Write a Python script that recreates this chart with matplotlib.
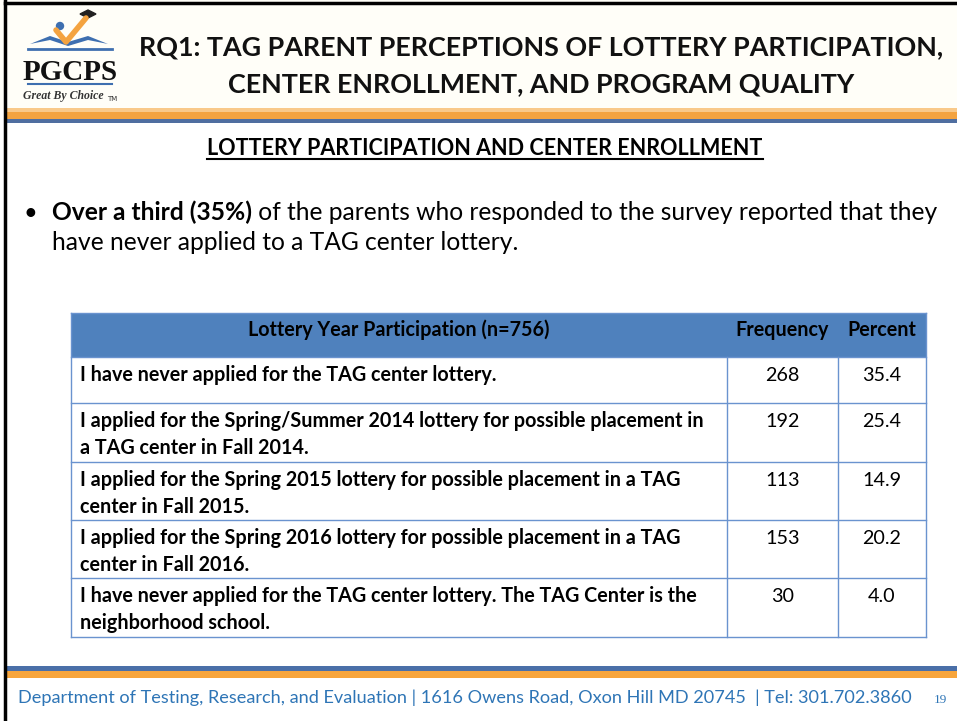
import matplotlib.pyplot as plt
from matplotlib.patches import Rectangle, Circle, Polygon

# slide text
title_lines = [
    "RQ1: TAG PARENT PERCEPTIONS OF LOTTERY PARTICIPATION,",
    "CENTER ENROLLMENT, AND PROGRAM QUALITY",
]
section_title = "LOTTERY PARTICIPATION AND CENTER ENROLLMENT"
bullet_bold = "Over a third (35%)"
bullet_rest = " of the parents who responded to the survey reported that they"
bullet_line2 = "have never applied to a TAG center lottery."

# table data
col_headers = ["Lottery Year Participation (n=756)", "Frequency", "Percent"]
row_labels = [
    ["I have never applied for the TAG center lottery."],
    ["I applied for the Spring/Summer 2014 lottery for possible placement in",
     "a TAG center in Fall 2014."],
    ["I applied for the Spring 2015 lottery for possible placement in a TAG",
     "center in Fall 2015."],
    ["I applied for the Spring 2016 lottery for possible placement in a TAG",
     "center in Fall 2016."],
    ["I have never applied for the TAG center lottery. The TAG Center is the",
     "neighborhood school."],
]
frequency = [268, 192, 113, 153, 30]
percent = [35.4, 25.4, 14.9, 20.2, 4.0]

footer = ("Department of Testing, Research, and Evaluation | 1616 Owens Road, "
          "Oxon Hill MD 20745  | Tel: 301.702.3860")
page_no = "19"

FONT = "Lato"
W, H = 957, 721

fig = plt.figure(figsize=(W / 100, H / 100), dpi=100)
ax = fig.add_axes([0, 0, 1, 1])
ax.set_xlim(0, W)
ax.set_ylim(H, 0)
ax.axis("off")
fig.patch.set_facecolor("white")

# header background and frame
ax.add_patch(Rectangle((0, 0), W, 108, color="#FFFEF8", zorder=0))
ax.plot([5, 5], [0, H], color="black", lw=2.5)
ax.plot([5, W], [3, 3], color="black", lw=2.5)

# header / footer bands
ax.add_patch(Rectangle((7, 108), W, 4, color="#F9C98A", lw=0))
ax.add_patch(Rectangle((7, 112), W, 7, color="#F4A340", lw=0))
ax.add_patch(Rectangle((7, 119), W, 4, color="#4F6EA0", lw=0))
ax.add_patch(Rectangle((7, 666), W, 5, color="#4A6FA8", lw=0))
ax.add_patch(Rectangle((7, 671), W, 7, color="#F7A53C", lw=0))

# logo
ax.add_patch(Polygon([[30, 44], [50, 36], [68, 42], [88, 36], [108, 44],
                      [88, 40], [68, 46], [50, 40]], color="#3E6FB0", lw=0))
ax.plot([28, 112], [49, 49], color="#3E6FB0", lw=2)
ax.plot([28, 112], [84, 84], color="#3E6FB0", lw=1.5)
ax.plot([56, 66, 86], [30, 42, 18], color="#F4A340", lw=4, solid_capstyle="round")
ax.add_patch(Circle((60, 26), 3.5, color="#3E6FB0"))
ax.add_patch(Polygon([[80, 14], [88, 10], [96, 14], [88, 18]], color="#222222"))
ax.text(70, 80, "PGCPS", fontsize=21, fontweight="bold", family="Liberation Serif",
        ha="center", va="baseline", color="#111111")
ax.text(23, 99, "Great By Choice", fontsize=8.5, style="italic", fontweight="bold",
        family="Liberation Serif", ha="left", va="baseline", color="#333333")
ax.text(107, 101, "TM", fontsize=5, family="DejaVu Sans", ha="left", va="baseline",
        color="#333333")

# title
for i, line in enumerate(title_lines):
    ax.text(541, 55 + i * 37, line, fontsize=19.4, fontweight="bold", family=FONT,
            ha="center", va="baseline", color="#111111")

# section heading with underline
t = ax.text(485, 155, section_title, fontsize=15.5, fontweight="bold", family=FONT,
            ha="center", va="baseline", color="black")
fig.canvas.draw()
r = fig.canvas.get_renderer()
bb = t.get_window_extent(r)
ax.plot([bb.x0, bb.x1], [159, 159], color="black", lw=1.5)

# bullet
ax.text(30, 220, "\u2022", fontsize=17, family=FONT, ha="center", va="baseline")
tb = ax.text(52, 220, bullet_bold, fontsize=17.7, fontweight="bold", family=FONT,
             ha="left", va="baseline")
bw = tb.get_window_extent(r).width
ax.text(52 + bw, 220, bullet_rest, fontsize=17.7, family=FONT, ha="left", va="baseline")
ax.text(52, 250, bullet_line2, fontsize=17.7, family=FONT, ha="left", va="baseline")

# table
x_edges = [71, 727, 838, 926]
y_edges = [313, 357, 403, 462, 520, 578, 637]
border = "#6A93CF"
ax.add_patch(Rectangle((x_edges[0], y_edges[0]), x_edges[-1] - x_edges[0],
                       y_edges[1] - y_edges[0], color="#4F81BD", lw=0))
for j, h in enumerate(col_headers):
    cx = (x_edges[j] + x_edges[j + 1]) / 2
    ax.text(cx, 330, h, fontsize=14.2, fontweight="bold", family=FONT,
            ha="center", va="center", color="black")

for i, lines in enumerate(row_labels):
    top = y_edges[i + 1]
    for k, line in enumerate(lines):
        ax.text(80, top + 24 + k * 27, line, fontsize=14.2, fontweight="bold",
                family=FONT, ha="left", va="baseline", color="black")
    ax.text((x_edges[1] + x_edges[2]) / 2, top + 24, str(frequency[i]), fontsize=14.2,
            family=FONT, ha="center", va="baseline")
    ax.text((x_edges[2] + x_edges[3]) / 2, top + 24, f"{percent[i]:.1f}", fontsize=14.2,
            family=FONT, ha="center", va="baseline")

for y in y_edges[1:]:
    ax.plot([x_edges[0], x_edges[-1]], [y, y], color=border, lw=1)
ax.plot([x_edges[0], x_edges[-1]], [y_edges[0], y_edges[0]], color=border, lw=1)
for x in [x_edges[0], x_edges[-1]]:
    ax.plot([x, x], [y_edges[0], y_edges[-1]], color=border, lw=1)
for x in x_edges[1:-1]:
    ax.plot([x, x], [y_edges[1], y_edges[-1]], color=border, lw=1)

# footer
ax.text(18, 703, footer, fontsize=13.1, family=FONT, ha="left", va="baseline",
        color="#2E75B6")
ax.text(940, 703, page_no, fontsize=9.5, family="Liberation Serif", ha="center",
        va="baseline", color="#2E75B6")

fig.savefig("out.png", dpi=100)
